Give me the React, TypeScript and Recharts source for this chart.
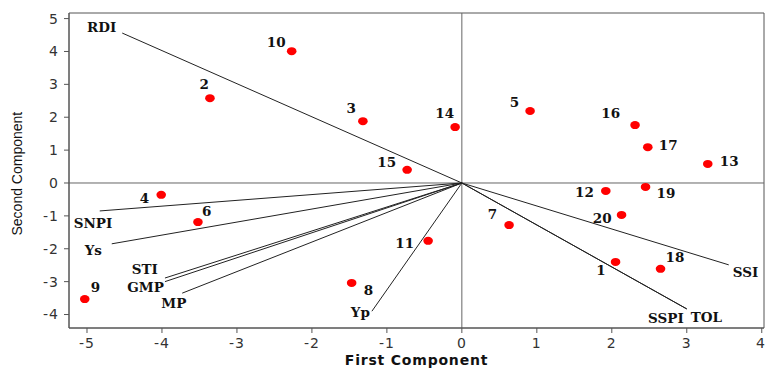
import React from "react";
import {
  ScatterChart,
  Scatter,
  XAxis,
  YAxis,
  ReferenceLine,
  ReferenceArea,
} from "recharts";

if (typeof document !== "undefined") {
  document.body.style.margin = "0";
}

// Genotype scores (first component, second component)
const genotypeIds = ["1","2","3","4","5","6","7","8","9","10","11","12","13","14","15","16","17","18","19","20"];
const genotypeX = [2.05, -3.36, -1.32, -4.01, 0.91, -3.52, 0.63, -1.47, -5.03, -2.27, -0.45, 1.92, 3.28, -0.09, -0.73, 2.31, 2.48, 2.65, 2.45, 2.13];
const genotypeY = [-2.40, 2.58, 1.88, -0.36, 2.19, -1.19, -1.28, -3.04, -3.53, 4.01, -1.76, -0.24, 0.58, 1.70, 0.40, 1.76, 1.09, -2.61, -0.12, -0.97];

// Index vectors (loadings)
const vectorNames = ["RDI", "SNPI", "Ys", "STI", "GMP", "MP", "Yp", "SSI", "SSPI", "TOL"];
const vectorX = [-4.53, -4.83, -4.67, -3.96, -3.96, -3.73, -1.20, 3.56, 3.00, 3.00];
const vectorY = [4.56, -0.85, -1.85, -2.89, -3.00, -3.35, -3.90, -2.49, -3.83, -3.83];

const xTicks = [-5, -4, -3, -2, -1, 0, 1, 2, 3, 4];
const yTicks = [-4, -3, -2, -1, 0, 1, 2, 3, 4, 5];

const X_MIN = -5.24;
const X_MAX = 4.03;
const Y_MIN = -4.41;
const Y_MAX = 5.17;

// label placement (style): [dx, dy, anchor]
const pointLabelPos: [number, number, string][] = [
  [-10, 13, "end"],   // 1
  [-1, -9, "end"],    // 2
  [-7, -8, "end"],    // 3
  [-12, 8, "end"],    // 4
  [-11, -4, "end"],   // 5
  [4, -6, "start"],   // 6
  [-12, -6, "end"],   // 7
  [12, 12, "start"],  // 8
  [6, -7, "start"],   // 9
  [-6, -4, "end"],    // 10
  [-14, 7, "end"],    // 11
  [-12, 6, "end"],    // 12
  [12, 2, "start"],   // 13
  [-1, -9, "end"],    // 14
  [-11, -3, "end"],   // 15
  [-15, -7, "end"],   // 16
  [11, 3, "start"],   // 17
  [5, -7, "start"],   // 18
  [11, 11, "start"],  // 19
  [-10, 8, "end"],    // 20
];

const vectorLabelPos: [number, number, string][] = [
  [-6, -1, "end"],    // RDI
  [-26, 17, "start"], // SNPI
  [-27, 11, "start"], // Ys
  [-7, -4, "end"],    // STI
  [-1, 10, "end"],    // GMP
  [-21, 15, "start"], // MP
  [-2, 6, "end"],     // Yp
  [4, 12, "start"],   // SSI
  [-3, 14, "end"],    // SSPI
  [4, 13, "start"],   // TOL
];

const genotypes = genotypeIds.map((id, i) => ({ id, idx: i, x: genotypeX[i], y: genotypeY[i] }));
const vectors = vectorNames.map((name, i) => ({ name, idx: i, x: vectorX[i], y: vectorY[i] }));

const labelFont = "'DejaVu Serif', 'Liberation Serif', serif";

const PointShape = (props: any) => {
  const { cx, cy, payload } = props;
  if (cx == null || cy == null) return null;
  const [dx, dy, anchor] = pointLabelPos[payload.idx];
  return (
    <g>
      <ellipse cx={cx} cy={cy} rx={4.8} ry={4} fill="#ff0000" />
      <text
        x={cx + dx}
        y={cy + dy}
        textAnchor={anchor as any}
        fontFamily={labelFont}
        fontWeight="bold"
        fontSize={13.5}
        fill="#111"
      >
        {payload.id}
      </text>
    </g>
  );
};

const VectorLabelShape = (props: any) => {
  const { cx, cy, payload } = props;
  if (cx == null || cy == null) return null;
  const [dx, dy, anchor] = vectorLabelPos[payload.idx];
  return (
    <text
      x={cx + dx}
      y={cy + dy}
      textAnchor={anchor as any}
      fontFamily={labelFont}
      fontWeight="bold"
      fontSize={13.5}
      fill="#111"
    >
      {payload.name}
    </text>
  );
};

export default function App() {
  return (
    <ScatterChart
      width={765}
      height={369}
      margin={{ top: 13, right: 1, bottom: 0, left: 0 }}
    >
      <XAxis
        type="number"
        dataKey="x"
        domain={[X_MIN, X_MAX]}
        ticks={xTicks}
        allowDataOverflow
        height={41}
        tickSize={5}
        tickMargin={5}
        stroke="#555"
        tick={{ fill: "#333", fontSize: 14, fontFamily: "'DejaVu Sans', sans-serif", letterSpacing: 1 }}
        label={{
          value: "First Component",
          position: "insideBottom",
          offset: 4,
          fill: "#111",
          fontSize: 14,
          fontWeight: "bold",
          fontFamily: "'DejaVu Sans', sans-serif",
          letterSpacing: 0.8,
        }}
      />
      <YAxis
        type="number"
        dataKey="y"
        domain={[Y_MIN, Y_MAX]}
        ticks={yTicks}
        allowDataOverflow
        width={69}
        tickSize={5}
        tickMargin={5}
        stroke="#555"
        tick={{ fill: "#333", fontSize: 14, fontFamily: "'DejaVu Sans', sans-serif", letterSpacing: 1 }}
        label={{
          value: "Second Component",
          angle: -90,
          position: "insideLeft",
          offset: 17,
          fill: "#111",
          fontSize: 14,
          fontFamily: "'Liberation Sans', Arial, sans-serif",
          dy: 65,
        }}
      />
      <ReferenceArea
        x1={X_MIN}
        x2={X_MAX}
        y1={Y_MIN}
        y2={Y_MAX}
        fill="none"
        fillOpacity={0}
        stroke="#555"
        strokeWidth={1}
      />
      <ReferenceLine x={0} stroke="#666" strokeWidth={1} />
      <ReferenceLine y={0} stroke="#666" strokeWidth={1} />
      {vectors.map((v) => (
        <ReferenceLine
          key={v.name}
          segment={[{ x: 0, y: 0 }, { x: v.x, y: v.y }]}
          stroke="#222"
          strokeWidth={1}
        />
      ))}
      <Scatter data={vectors} shape={VectorLabelShape} isAnimationActive={false} />
      <Scatter data={genotypes} shape={PointShape} isAnimationActive={false} />
    </ScatterChart>
  );
}
